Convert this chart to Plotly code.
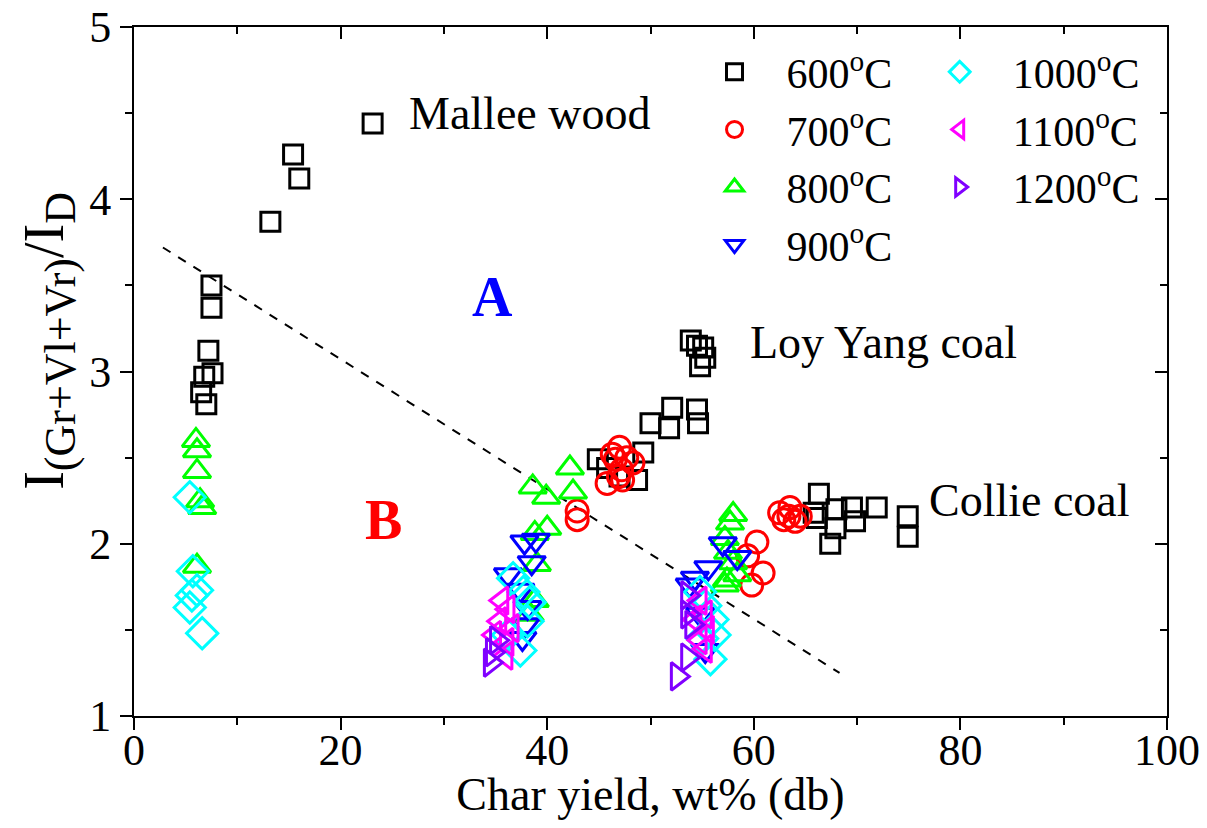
import plotly.graph_objects as go

# ---------------- data ----------------
x600 = [23.1, 15.4, 16.0, 13.2, 7.5, 7.5, 7.2, 7.6, 6.8, 6.5, 7.0,
        53.9, 54.5, 55.1, 54.8, 55.3, 52.1, 50.0, 51.8, 54.5, 54.6,
        49.3, 44.9, 45.8, 48.7, 47.0,
        66.3, 66.1, 65.8, 68.0, 69.5, 69.8, 71.9, 67.9, 67.4, 74.9, 74.9]
y600 = [4.44, 4.26, 4.12, 3.87, 3.50, 3.37, 3.12, 2.99, 2.97, 2.88, 2.81,
        3.18, 3.15, 3.14, 3.03, 3.08, 2.79, 2.70, 2.67, 2.78, 2.70,
        2.53, 2.49, 2.44, 2.37, 2.39,
        2.29, 2.15, 2.18, 2.20, 2.21, 2.13, 2.21, 2.09, 2.00, 2.16, 2.04]

x700 = [47.0, 47.7, 46.6, 48.3, 47.2, 45.8, 46.9, 47.3, 46.3,
        42.9, 42.9,
        60.3, 59.4, 60.9, 59.8,
        62.5, 63.5, 64.5, 62.9, 64.0, 63.4]
y700 = [2.56, 2.50, 2.49, 2.47, 2.43, 2.35, 2.39, 2.37, 2.52,
        2.19, 2.14,
        2.01, 1.93, 1.83, 1.76,
        2.18, 2.21, 2.16, 2.14, 2.13, 2.16]

x800 = [6.0, 6.1, 6.1, 6.4, 6.6, 6.1,
        42.2, 42.5, 38.6, 39.9, 40.0, 38.8, 39.0, 38.3, 38.8,
        58.0, 57.7, 57.2, 57.5, 58.0, 58.4, 57.4, 57.2]
y800 = [2.60, 2.54, 2.42, 2.25, 2.21, 1.87,
        2.44, 2.30, 2.33, 2.27, 2.09, 2.06, 1.88, 1.59, 1.67,
        2.17, 2.12, 2.03, 1.95, 1.89, 1.82, 1.79, 1.76]

x900 = [37.8, 38.9, 38.5, 36.2, 37.4, 38.1, 37.9, 37.6,
        57.0, 58.4, 55.6, 54.3, 53.8, 54.8, 55.3]
y900 = [2.01, 2.02, 1.89, 1.82, 1.73, 1.63, 1.53, 1.45,
        2.00, 1.92, 1.86, 1.80, 1.76, 1.59, 1.38]

x1000 = [5.4, 5.7, 6.1, 5.6, 5.4, 6.6,
         36.7, 37.7, 38.3, 38.1, 37.4, 36.2,
         54.8, 55.3, 56.0, 56.2, 55.8, 55.0]
y1000 = [2.27, 1.84, 1.73, 1.70, 1.63, 1.48,
         1.80, 1.72, 1.66, 1.55, 1.38, 1.47,
         1.72, 1.64, 1.56, 1.47, 1.33, 1.45]

x1100 = [35.6, 36.2, 35.4, 36.6, 34.9, 36.1, 36.0,
         54.8, 55.3, 54.3, 55.5, 54.8, 55.3]
y1100 = [1.67, 1.62, 1.55, 1.51, 1.47, 1.43, 1.35,
         1.67, 1.59, 1.56, 1.50, 1.44, 1.39]

x1200 = [35.1, 34.7, 34.5,
         53.6, 53.6, 54.0, 53.6, 52.6]
y1200 = [1.44, 1.37, 1.31,
         1.70, 1.59, 1.53, 1.34, 1.23]

line_x = [2.8, 68.3]
line_y = [3.72, 1.25]

series = [
    ("600<sup>o</sup>C", x600, y600, "square-open", "#000000", "legend", 19),
    ("700<sup>o</sup>C", x700, y700, "circle-open", "#FF0000", "legend", 22),
    ("800<sup>o</sup>C", x800, y800, "triangle-up-open", "#00FF00", "legend", 24),
    ("900<sup>o</sup>C", x900, y900, "triangle-down-open", "#0000FF", "legend", 24),
    ("1000<sup>o</sup>C", x1000, y1000, "diamond-open", "#00FFFF", "legend2", 24),
    ("1100<sup>o</sup>C", x1100, y1100, "triangle-left-open", "#FF00FF", "legend2", 24),
    ("1200<sup>o</sup>C", x1200, y1200, "triangle-right-open", "#8000FF", "legend2", 24),
]

FONT = "Liberation Serif"

fig = go.Figure()
fig.add_trace(go.Scatter(x=line_x, y=line_y, mode="lines",
                         line=dict(color="black", width=2, dash="dash"),
                         showlegend=False, hoverinfo="skip"))
for name, xs, ys, sym, col, leg, size in series:
    fig.add_trace(go.Scatter(x=xs, y=ys, mode="markers", name=name,
                             legend=leg,
                             marker=dict(symbol=sym, size=size, color=col,
                                         line=dict(color=col, width=3))))

# empty trace to draw mirrored axes (top/right) with inward ticks
fig.add_trace(go.Scatter(x=[], y=[], xaxis="x2", yaxis="y2", showlegend=False))

tickfont = dict(family=FONT, size=44, color="black")
legfont = dict(family=FONT, size=42, color="black")
fig.update_layout(
    width=1191, height=812,
    margin=dict(l=126, r=32, t=19, b=104),
    paper_bgcolor="white", plot_bgcolor="white",
    font=dict(family=FONT, color="black"),
    xaxis=dict(range=[0, 100], tickvals=[0, 20, 40, 60, 80, 100],
               ticks="outside", ticklen=12, tickwidth=2, tickcolor="black",
               minor=dict(tickvals=[10, 30, 50, 70, 90], ticks="outside",
                          ticklen=7, tickwidth=2, tickcolor="black"),
               showline=True, linecolor="black", linewidth=2, mirror=True,
               showgrid=False, zeroline=False, tickfont=tickfont,
               automargin=False, ticklabelstandoff=-18,
               ticklabeloverflow="allow",
               title=dict(text="Char yield, wt% (db)",
                          font=dict(family=FONT, size=46), standoff=16)),
    yaxis=dict(range=[1, 5], tickvals=[1, 2, 3, 4, 5],
               ticks="outside", ticklen=12, tickwidth=2, tickcolor="black",
               minor=dict(tickvals=[1.5, 2.5, 3.5, 4.5], ticks="outside",
                          ticklen=7, tickwidth=2, tickcolor="black"),
               showline=True, linecolor="black", linewidth=2, mirror=True,
               showgrid=False, zeroline=False, tickfont=tickfont,
               automargin=False, ticklabeloverflow="allow"),
    xaxis2=dict(overlaying="x", side="top", range=[0, 100],
                tickvals=[0, 20, 40, 60, 80, 100], ticks="inside",
                ticklen=12, tickwidth=2, tickcolor="black",
                minor=dict(tickvals=[10, 30, 50, 70, 90], ticks="inside",
                           ticklen=7, tickwidth=2, tickcolor="black"),
                showticklabels=False, showgrid=False, zeroline=False,
                showline=False, automargin=False),
    yaxis2=dict(overlaying="y", side="right", range=[1, 5],
                tickvals=[1, 2, 3, 4, 5], ticks="inside",
                ticklen=12, tickwidth=2, tickcolor="black",
                minor=dict(tickvals=[1.5, 2.5, 3.5, 4.5], ticks="inside",
                           ticklen=7, tickwidth=2, tickcolor="black"),
                showticklabels=False, showgrid=False, zeroline=False,
                showline=False, automargin=False),
    legend=dict(orientation="v", x=0.531, y=0.984, xanchor="left",
                yanchor="top", itemwidth=94, bgcolor="rgba(0,0,0,0)",
                font=legfont, traceorder="normal"),
    legend2=dict(orientation="v", x=0.748, y=0.984, xanchor="left",
                 yanchor="top", itemwidth=96, bgcolor="rgba(0,0,0,0)",
                 font=legfont, traceorder="normal"),
    showlegend=True,
)

# y-axis title drawn as rotated annotation
fig.add_annotation(x=-0.082, y=0.545, xref="paper", yref="paper",
                   xanchor="center", yanchor="middle", textangle=-90,
                   text=("I<sub><span style='font-size:44px'>(Gr+Vl+Vr)</span></sub>"
                         "/I<sub><span style='font-size:44px'>D</span></sub>"),
                   showarrow=False, font=dict(family=FONT, size=56, color="black"))

fig.add_annotation(x=38.3, y=4.50, text="Mallee wood", showarrow=False,
                   font=dict(family=FONT, size=46, color="black"))
fig.add_annotation(x=72.6, y=3.17, text="Loy Yang coal", showarrow=False,
                   font=dict(family=FONT, size=46, color="black"))
fig.add_annotation(x=86.7, y=2.25, text="Collie coal", showarrow=False,
                   font=dict(family=FONT, size=46, color="black"))
fig.add_annotation(x=34.7, y=3.43, text="<b>A</b>", showarrow=False,
                   font=dict(family=FONT, size=56, color="#0000FF"))
fig.add_annotation(x=24.2, y=2.14, text="<b>B</b>", showarrow=False,
                   font=dict(family=FONT, size=56, color="#FF0000"))

fig.write_html("out.html")
